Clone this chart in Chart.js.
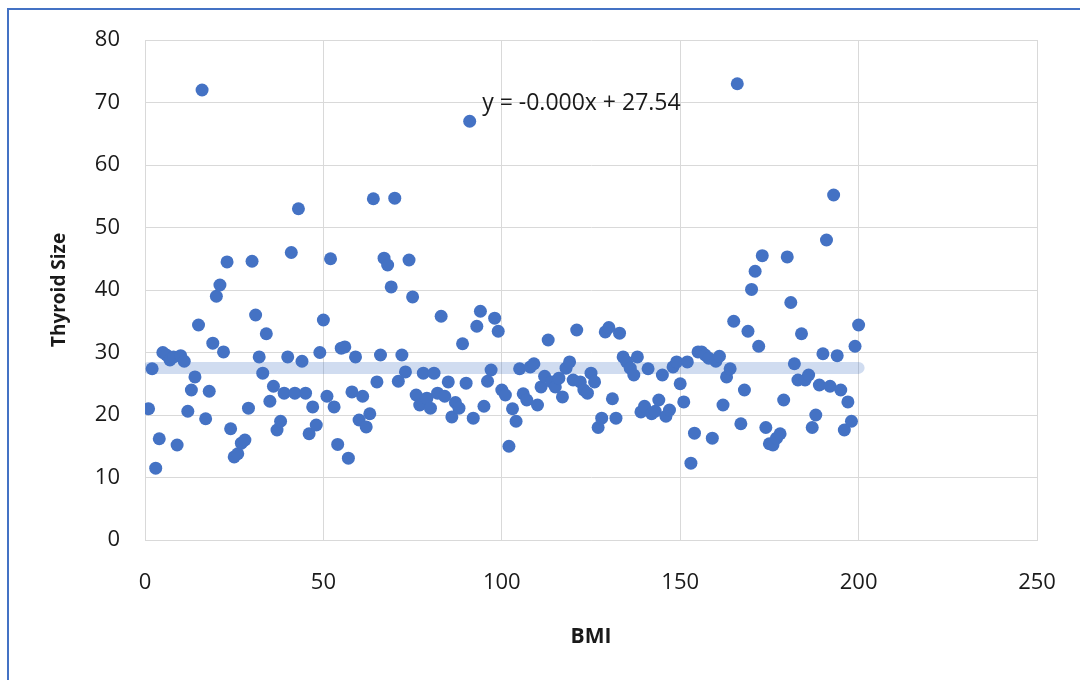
<!DOCTYPE html>
<html>
<head>
<meta charset="utf-8">
<script src="https://cdn.jsdelivr.net/npm/chart.js@4.4.1/dist/chart.umd.min.js"></script>
<style>
    body { margin: 0; background: #fff; overflow: hidden; }
    #frame {
        position: absolute; left: 7px; top: 8px; width: 1200px; height: 800px;
        border: 2px solid #4472c4; box-sizing: border-box;
    }
    #chart { position: absolute; left: 0; top: 0; }
</style>
</head>
<body>
<div id="frame"></div>
<canvas id="chart" width="1080" height="680"></canvas>
<script>
// BMI index along the x axis
const bmi = [
    1, 2, 3, 4, 5, 6, 7, 8, 9, 10, 11, 12, 13, 14, 15, 16, 17, 18, 19, 20,
    21, 22, 23, 24, 25, 26, 27, 28, 29, 30, 31, 32, 33, 34, 35, 36, 37, 38, 39, 40,
    41, 42, 43, 44, 45, 46, 47, 48, 49, 50, 51, 52, 53, 54, 55, 56, 57, 58, 59, 60,
    61, 62, 63, 64, 65, 66, 67, 68, 69, 70, 71, 72, 73, 74, 75, 76, 77, 78, 79, 80,
    81, 82, 83, 84, 85, 86, 87, 88, 89, 90, 91, 92, 93, 94, 95, 96, 97, 98, 99, 100,
    101, 102, 103, 104, 105, 106, 107, 108, 109, 110, 111, 112, 113, 114, 115, 116, 117, 118, 119, 120,
    121, 122, 123, 124, 125, 126, 127, 128, 129, 130, 131, 132, 133, 134, 135, 136, 137, 138, 139, 140,
    141, 142, 143, 144, 145, 146, 147, 148, 149, 150, 151, 152, 153, 154, 155, 156, 157, 158, 159, 160,
    161, 162, 163, 164, 165, 166, 167, 168, 169, 170, 171, 172, 173, 174, 175, 176, 177, 178, 179, 180,
    181, 182, 183, 184, 185, 186, 187, 188, 189, 190, 191, 192, 193, 194, 195, 196, 197, 198, 199, 200
];

const thyroidSize = [
    21, 27.4, 11.5, 16.2, 30, 29.6, 28.8, 29.3, 15.2, 29.5,
    28.6, 20.6, 24, 26.1, 34.4, 72, 19.4, 23.8, 31.5, 39,
    40.8, 30.1, 44.5, 17.8, 13.3, 13.8, 15.5, 16, 21.1, 44.6,
    36, 29.3, 26.7, 33, 22.2, 24.6, 17.6, 19, 23.5, 29.3,
    46, 23.5, 53, 28.6, 23.5, 17, 21.3, 18.4, 30, 35.2,
    23, 45, 21.3, 15.3, 30.7, 30.9, 13.1, 23.7, 29.3, 19.2,
    23, 18.1, 20.2, 54.6, 25.3, 29.6, 45.1, 44, 40.5, 54.7,
    25.4, 29.6, 26.9, 44.8, 38.9, 23.2, 21.6, 26.7, 22.7, 21.1,
    26.7, 23.5, 35.8, 23, 25.3, 19.7, 22, 21.1, 31.4, 25.1,
    67, 19.5, 34.2, 36.6, 21.4, 25.4, 27.2, 35.5, 33.4, 24,
    23.2, 15, 21, 19, 27.4, 23.4, 22.4, 27.7, 28.2, 21.6,
    24.5, 26.2, 32, 25.3, 24.5, 25.9, 22.9, 27.5, 28.5, 25.6,
    33.6, 25.3, 24, 23.5, 26.7, 25.3, 18, 19.5, 33.3, 34,
    22.6, 19.5, 33.1, 29.3, 28.5, 27.5, 26.4, 29.3, 20.5, 21.4,
    27.4, 20.2, 20.6, 22.4, 26.4, 19.8, 20.8, 27.7, 28.5, 25,
    22.1, 28.5, 12.3, 17.1, 30.1, 30.1, 29.6, 29.1, 16.3, 28.6,
    29.4, 21.6, 26.1, 27.4, 35, 73, 18.6, 24, 33.4, 40.1,
    43, 31, 45.5, 18, 15.4, 15.2, 16.3, 17, 22.4, 45.3,
    38, 28.2, 25.6, 33, 25.6, 26.4, 18, 20, 24.8, 29.8,
    48, 24.6, 55.2, 29.5, 24, 17.6, 22.1, 19, 31, 34.4
];

// linear trendline (flat) as shown in the label
const trendX = [1, 200];
const trendY = [27.54, 27.54];
const trendLabel = 'y = -0.000x + 27.54';
const trendLabelPos = [94.5, 69.8];

const fontFamily = "'Open Sans', 'Liberation Sans', sans-serif";
const gridColor = '#d9d9d9';
const textColor = '#1a1a1a';

const trendLabelPlugin = {
    id: 'trendLabel',
    afterDatasetsDraw(chart) {
        const ctx = chart.ctx;
        const x = chart.scales.x.getPixelForValue(trendLabelPos[0]);
        const y = chart.scales.y.getPixelForValue(trendLabelPos[1]);
        ctx.save();
        ctx.font = `23px ${fontFamily}`;
        ctx.fillStyle = textColor;
        ctx.textAlign = 'left';
        ctx.textBaseline = 'middle';
        ctx.fillText(trendLabel, x, y);
        ctx.restore();
    }
};

new Chart(document.getElementById('chart'), {
    type: 'scatter',
    data: {
        datasets: [
            {
                label: 'Thyroid Size',
                data: bmi.map((x, i) => ({x: x, y: thyroidSize[i]})),
                backgroundColor: '#4472c4',
                borderWidth: 0,
                pointRadius: 6.5,
                order: 1
            },
            {
                label: 'Trend',
                type: 'line',
                data: trendX.map((x, i) => ({x: x, y: trendY[i]})),
                borderColor: 'rgba(68, 114, 196, 0.25)',
                borderWidth: 12,
                borderCapStyle: 'round',
                pointRadius: 0,
                fill: false,
                order: 2
            }
        ]
    },
    options: {
        responsive: false,
        animation: false,
        layout: {padding: {top: 40, right: 43, left: 0, bottom: 0}},
        plugins: {
            legend: {display: false},
            tooltip: {enabled: false}
        },
        scales: {
            x: {
                type: 'linear',
                min: 0,
                max: 250,
                ticks: {
                    stepSize: 50,
                    padding: 30,
                    minRotation: 0,
                    maxRotation: 0,
                    color: textColor,
                    font: {family: fontFamily, size: 22}
                },
                grid: {color: gridColor, drawTicks: false},
                border: {color: gridColor},
                title: {
                    display: true,
                    text: 'BMI',
                    color: textColor,
                    font: {family: fontFamily, size: 21, weight: 'bold'},
                    padding: {top: 0, bottom: 30}
                },
                afterFit(scale) {
                    scale.height = 140;
                    // keep the plot edges where the layout padding puts them
                    scale.paddingLeft = 0;
                    scale.paddingRight = 0;
                }
            },
            y: {
                min: 0,
                max: 80,
                ticks: {
                    stepSize: 10,
                    padding: 25,
                    color: textColor,
                    font: {family: fontFamily, size: 22}
                },
                grid: {color: gridColor, drawTicks: false},
                border: {color: gridColor},
                title: {
                    display: true,
                    text: 'Thyroid Size',
                    color: textColor,
                    font: {family: fontFamily, size: 19, weight: 'bold'},
                    padding: {top: 48, bottom: 0}
                },
                afterFit(scale) { scale.width = 145; }
            }
        }
    },
    plugins: [trendLabelPlugin]
});
</script>
</body>
</html>
